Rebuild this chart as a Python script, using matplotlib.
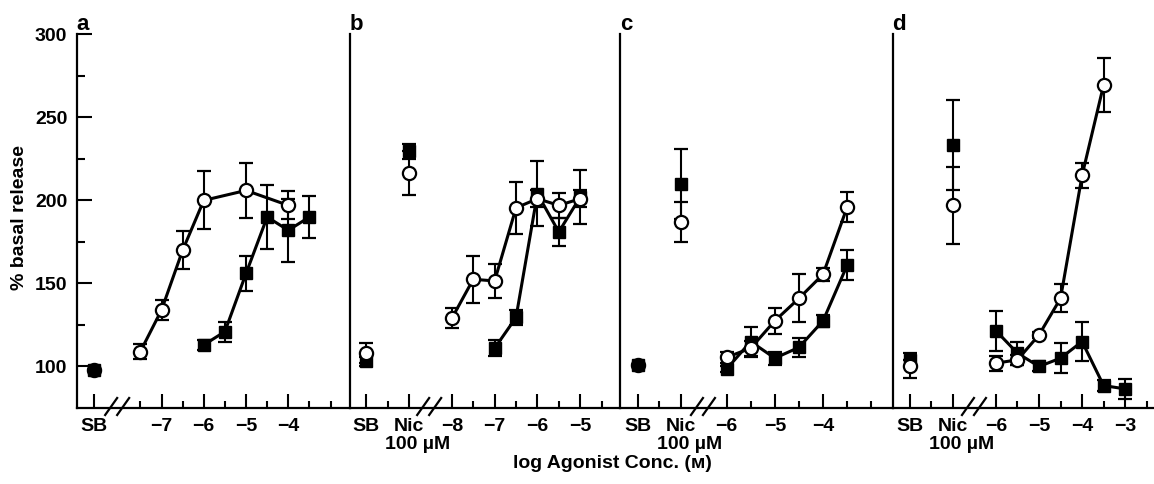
import matplotlib
matplotlib.use("Agg")
import matplotlib.pyplot as plt
from matplotlib.transforms import ScaledTranslation, blended_transform_factory

plt.rcParams['font.family'] = ['Liberation Sans', 'DejaVu Sans']
plt.rcParams['font.weight'] = 'bold'

# open circles (log agonist conc, % basal release, s.e.mean)
a_open_x = [-7.5, -7, -6.5, -6, -5, -4]
a_open_y = [109, 134, 170, 200, 206, 197]
a_open_err = [4.5, 6, 11.5, 17.5, 16.5, 8.5]
b_open_x = [-8, -7.5, -7, -6.5, -6, -5.5, -5]
b_open_y = [129, 152.5, 151.5, 195.5, 201, 197, 201]
b_open_err = [6, 14, 10, 15.5, 5, 7.5, 5]
c_open_x = [-6, -5.5, -5, -4.5, -4, -3.5]
c_open_y = [105.5, 111, 127.5, 141, 155.5, 196]
c_open_err = [3.5, 4.5, 8, 14.5, 4, 9]
d_open_x = [-6, -5.5, -5, -4.5, -4, -3.5]
d_open_y = [102, 104, 119, 141, 215, 269.5]
d_open_err = [4.5, 3, 2, 8.5, 7.5, 16]

# filled squares
a_fill_x = [-6, -5.5, -5, -4.5, -4, -3.5]
a_fill_y = [113, 121, 156, 190, 182, 190]
a_fill_err = [3, 6, 10.5, 19.5, 19, 12.5]
b_fill_x = [-7, -6.5, -6, -5.5, -5]
b_fill_y = [111, 129.5, 204, 181, 202]
b_fill_err = [4.7, 4.5, 19.5, 8.5, 16.5]
c_fill_x = [-6, -5.5, -5, -4.5, -4, -3.5]
c_fill_y = [98.5, 115, 105, 111.5, 127.5, 161]
c_fill_err = [2, 9, 4, 5.5, 3.5, 9]
d_fill_x = [-6, -5.5, -5, -4.5, -4, -3.5, -3]
d_fill_y = [121.5, 108, 100, 105, 115, 88.5, 86.5]
d_fill_err = [12, 7, 3, 9, 12, 3.5, 6]

# SB (basal) and nicotine 100 uM responses, panels a-d
sb_open_y = [98, 108, 101, 100.5]
sb_open_err = [0, 6, 0, 7.5]
sb_fill_y = [98, 103, 101, 104]
sb_fill_err = [0, 3, 0, 0]
nic_open_y = [None, 216.5, 187, 197]
nic_open_err = [None, 13.5, 12, 23]
nic_fill_y = [None, 229.5, 210, 233.5]
nic_fill_err = [None, 4.5, 21, 27]

panel_names = ['a', 'b', 'c', 'd']
open_x = [a_open_x, b_open_x, c_open_x, d_open_x]
open_y = [a_open_y, b_open_y, c_open_y, d_open_y]
open_err = [a_open_err, b_open_err, c_open_err, d_open_err]
fill_x = [a_fill_x, b_fill_x, c_fill_x, d_fill_x]
fill_y = [a_fill_y, b_fill_y, c_fill_y, d_fill_y]
fill_err = [a_fill_err, b_fill_err, c_fill_err, d_fill_err]

# layout of each panel
left_px = [77, 350, 620, 893]
right_px = [350, 620, 893, 1154]
xlims = [(-9.0, -2.54), (-10.38, -4.07), (-8.21, -2.55), (-8.39, -2.33)]
sb_pos = [-8.6, -10, -7.83, -8]
mid_pos = [None, -9.5, -7.4, -7.5]
nic_pos = [None, -9, -6.95, -7]
break_pos = [-8.05, -8.53, -6.49, -6.51]
sb_square_on_top = [True, False, True, False]
conc_major = [[-7, -6, -5, -4], [-8, -7, -6, -5], [-6, -5, -4], [-6, -5, -4, -3]]
conc_minor = [[-7.5, -6.5, -5.5, -4.5, -3.5, -3], [-7.5, -6.5, -5.5, -4.5],
              [-5.5, -4.5, -3.5, -3], [-5.5, -4.5, -3.5, -2.5]]

W, H = 1154, 484
fig = plt.figure(figsize=(W / 100, H / 100), dpi=100)
ax_bottom = (H - 408) / H
ax_height = 373.7 / H
FS = 14

open_style = dict(marker='o', ms=9.5, mfc='white', mec='black', mew=1.6, color='black',
                  ecolor='black', elinewidth=1.5, capsize=5, capthick=1.6, zorder=4)
fill_style = dict(marker='s', ms=9, mfc='black', mec='black', color='black',
                  ecolor='black', elinewidth=1.5, capsize=5, capthick=1.6, zorder=3)

for i, name in enumerate(panel_names):
    ax = fig.add_axes([left_px[i] / W, ax_bottom, (right_px[i] - left_px[i]) / W, ax_height])
    ax.set_xlim(*xlims[i])
    ax.set_ylim(75, 300)
    for s in ['top', 'right']:
        ax.spines[s].set_visible(False)
    for s in ['left', 'bottom']:
        ax.spines[s].set_linewidth(1.6)

    # curves
    ax.errorbar(fill_x[i], fill_y[i], yerr=fill_err[i], lw=2.2, **fill_style)
    ax.errorbar(open_x[i], open_y[i], yerr=open_err[i], lw=2.2, **open_style)

    # SB and Nic points
    sb_fill = dict(fill_style, zorder=5 if sb_square_on_top[i] else 3)
    ax.errorbar([sb_pos[i]], [sb_fill_y[i]], yerr=[sb_fill_err[i]], ls='none', **sb_fill)
    ax.errorbar([sb_pos[i]], [sb_open_y[i]], yerr=[sb_open_err[i]], ls='none', **open_style)
    if nic_pos[i] is not None:
        ax.errorbar([nic_pos[i]], [nic_fill_y[i]], yerr=[nic_fill_err[i]], ls='none', **fill_style)
        ax.errorbar([nic_pos[i]], [nic_open_y[i]], yerr=[nic_open_err[i]], ls='none', **open_style)

    # x ticks
    major = [sb_pos[i]]
    labels = ['SB']
    minor = list(conc_minor[i])
    if nic_pos[i] is not None:
        major.append(nic_pos[i])
        labels.append('Nic')
        minor.append(mid_pos[i])
        trans = blended_transform_factory(ax.transData, ax.transAxes)
        ax.text(nic_pos[i], -0.075, '100 µM', transform=trans + ScaledTranslation(0.09, 0, fig.dpi_scale_trans),
                ha='center', va='top', fontsize=FS, fontweight='bold')
    major += conc_major[i]
    labels += ['\u2212%d' % abs(v) for v in conc_major[i]]
    ax.set_xticks(major)
    ax.set_xticklabels(labels, fontsize=FS, fontweight='bold')
    ax.set_xticks(minor, minor=True)
    ax.tick_params(axis='x', which='major', direction='in', length=10, width=1.5, pad=7)
    ax.tick_params(axis='x', which='minor', direction='in', length=5, width=1.5)

    # y axis only labelled in panel a
    if i == 0:
        ax.set_yticks([100, 150, 200, 250, 300])
        ax.set_yticks([125, 175, 225, 275], minor=True)
        ax.tick_params(axis='y', which='major', direction='in', length=11, width=1.5,
                       pad=7, labelsize=FS)
        ax.tick_params(axis='y', which='minor', direction='in', length=5.5, width=1.5)
    else:
        ax.tick_params(axis='y', which='both', left=False, labelleft=False)

    # axis break marks
    upp = (xlims[i][1] - xlims[i][0]) / (right_px[i] - left_px[i])
    trans = blended_transform_factory(ax.transData, ax.transAxes)
    for off in (-6, 6):
        xc = break_pos[i] + off * upp
        ax.plot([xc - 6 * upp, xc + 6 * upp], [-7 / 373.7, 10 / 373.7], color='black',
                lw=1.6, transform=trans, clip_on=False, zorder=5)

    fig.text((left_px[i] + 6) / W, 1 - 24 / H, name, fontsize=16, fontweight='heavy',
             ha='center', va='center')

fig.text(20 / W, 1 - 217 / H, '% basal release', rotation=90, fontsize=FS,
         fontweight='bold', ha='center', va='center')
fig.text(612 / W, 1 - 463 / H, 'log Agonist Conc. (\u1d0d)', fontsize=FS,
         fontweight='bold', ha='center', va='center')

fig.savefig('out.png', dpi=100)
